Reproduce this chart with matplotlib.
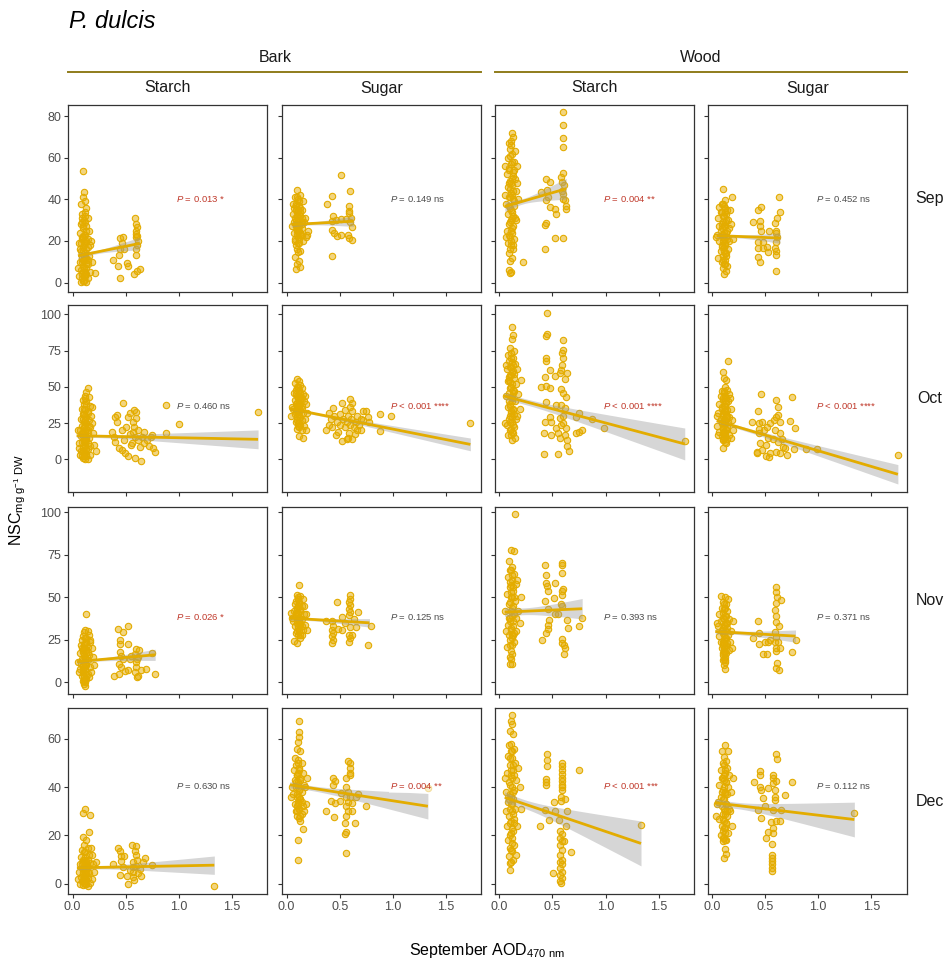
import numpy as np
import matplotlib
matplotlib.use("Agg")
import matplotlib.pyplot as plt

plt.rcParams['font.family'] = ['Liberation Sans', 'DejaVu Sans']
plt.rcParams['mathtext.fontset'] = 'custom'
plt.rcParams['mathtext.rm'] = 'Liberation Sans'
plt.rcParams['mathtext.it'] = 'Liberation Sans:italic'

# ---------------- data ----------------
months = ["Sep", "Oct", "Nov", "Dec"]
tissues = ["Bark", "Wood"]
nsc_types = ["Starch", "Sugar"]
x_ticks = [0.0, 0.5, 1.0, 1.5]
x_tick_labels = ["0.0", "0.5", "1.0", "1.5"]
y_ticks_sep = [0, 20, 40, 60, 80]
y_ticks_oct = [0, 25, 50, 75, 100]
y_ticks_nov = [0, 25, 50, 75, 100]
y_ticks_dec = [0, 20, 40, 60]

# --- September ---
sep_bark_starch = [(0.10,53.6),(0.11,43.5),(0.10,41),(0.08,38),(0.13,36),(0.12,34),(0.09,33),(0.14,31),(0.11,30),(0.08,28),(0.13,27),(0.10,26),(0.15,25),(0.07,24),(0.12,23),(0.09,22),(0.14,21),(0.11,20),(0.06,19),(0.16,18),(0.10,17),(0.13,16),(0.08,15),(0.12,14),(0.15,13),(0.09,12),(0.11,11),(0.07,10),(0.14,9),(0.10,8),(0.05,7),(0.13,7),(0.08,6),(0.12,5),(0.16,5),(0.09,4),(0.11,3),(0.06,3),(0.14,2),(0.10,1),(0.08,0.5),(0.13,0.5),(0.21,4.4),(0.18,10),(0.17,20),(0.12,39),(0.09,29),(0.11,18),(0.13,12),(0.07,16),
    (0.09,31),(0.12,29),(0.10,27),(0.13,25),(0.11,23),(0.09,21),(0.12,19),(0.14,17),(0.10,15),(0.12,12),(0.09,10),(0.13,9),(0.11,7),(0.10,5),(0.12,3),(0.09,2),(0.13,4),(0.11,13),(0.14,11),(0.08,19),(0.12,32),(0.10,22),(0.11,1),(0.13,20),(0.10,11),
    (0.38,11.1),(0.43,8.1),(0.45,2.4),(0.44,13.4),(0.45,16.1),(0.45,21.4),(0.47,21.7),(0.46,18.8),(0.48,16.1),(0.51,9.2),(0.52,8.1),(0.59,31.1),(0.60,28),(0.60,25),(0.60,22),(0.61,26.5),(0.60,23.5),(0.60,16),(0.60,13.4),(0.61,22.4),(0.58,4.0),(0.61,5.6),(0.63,6.7),(0.61,18),(0.62,20)]
sep_bark_sugar = [(0.10,44.6),(0.13,42),(0.08,41),(0.11,40),(0.15,39),(0.09,38),(0.12,37),(0.07,36),(0.14,35),(0.10,34),(0.06,33),(0.13,32),(0.08,31),(0.11,30),(0.16,29),(0.09,28),(0.12,27),(0.05,27),(0.14,26),(0.10,25),(0.07,24),(0.13,23),(0.11,22),(0.18,22),(0.08,21),(0.15,20),(0.12,19),(0.09,18),(0.10,16),(0.13,15),(0.11,14.6),(0.08,12.2),(0.12,10.6),(0.10,9),(0.13,7.3),(0.09,6.5),(0.19,23),(0.20,25),(0.17,31),(0.06,38),(0.12,33),(0.09,35),(0.14,28),(0.11,26),(0.07,29),
    (0.10,41),(0.12,39),(0.09,37),(0.11,35),(0.13,34),(0.10,32),(0.12,30),(0.14,29),(0.09,27),(0.11,25),(0.13,24),(0.10,23),(0.12,21),(0.08,20),(0.11,19),(0.14,31),(0.09,30),(0.13,36),(0.11,28),(0.10,26),(0.12,25),(0.14,23),
    (0.515,51.9),(0.60,44.2),(0.43,41.8),(0.38,37.8),(0.59,37),(0.59,34.6),(0.587,33.3),(0.437,32.2),(0.425,29.8),(0.469,30.1),(0.515,30.6),(0.562,30.6),(0.619,26.9),(0.43,25.2),(0.447,23.9),(0.478,22.3),(0.515,23.1),(0.581,22.7),(0.59,21.6),(0.619,20.6),(0.425,12.6),(0.60,29),(0.61,31)]
sep_wood_starch = [(0.12,72),(0.13,70),(0.09,67),(0.11,68),(0.10,64),(0.12,62),(0.08,60),(0.14,58),(0.11,57),(0.09,55),(0.13,53),(0.07,52),(0.15,50),(0.10,49),(0.12,47),(0.08,46),(0.16,44),(0.11,43),(0.09,41),(0.13,40),(0.06,38),(0.14,37),(0.10,36),(0.12,34),(0.08,33),(0.15,31),(0.11,30),(0.09,28),(0.13,27),(0.07,25),(0.12,24),(0.10,22),(0.14,21),(0.08,19),(0.11,18),(0.13,16),(0.09,14),(0.12,12),(0.10,10.3),(0.22,9.8),(0.09,6),(0.11,5),(0.10,4.8),(0.17,48),(0.18,40),(0.16,30),(0.05,56),(0.05,42),(0.06,22),(0.15,63),(0.17,56),
    (0.11,66),(0.10,61),(0.12,58),(0.09,54),(0.13,51),(0.11,48),(0.10,45),(0.12,42),(0.14,39),(0.09,37),(0.11,35),(0.13,32),(0.10,29),(0.12,26),(0.09,23),(0.11,20),(0.13,18),(0.10,16),(0.12,50),(0.14,54),(0.10,41),(0.12,31),(0.11,25),(0.09,48),(0.13,44),
    (0.599,81.8),(0.599,75.7),(0.599,69.6),(0.599,65.2),(0.599,52.7),(0.583,50.8),(0.593,48.3),(0.605,46.7),(0.599,42.7),(0.614,39.8),(0.624,36.6),(0.624,35.5),(0.443,50),(0.474,48.3),(0.452,44.6),(0.39,43.5),(0.458,41.2),(0.437,39.5),(0.474,36.3),(0.521,35.2),(0.53,33.1),(0.443,28.5),(0.43,27.9),(0.524,21.4),(0.599,21.4),(0.433,16.1),(0.59,44),(0.60,40)]
sep_wood_sugar = [(0.10,45.1),(0.19,41),(0.07,36.3),(0.12,39.5),(0.09,38),(0.11,37),(0.14,35),(0.08,34),(0.13,33),(0.10,32),(0.06,31),(0.15,30),(0.12,29),(0.09,28),(0.11,27),(0.16,26),(0.08,25),(0.13,24),(0.05,23),(0.10,22),(0.14,21),(0.07,20),(0.12,19),(0.09,18),(0.11,17),(0.15,16),(0.08,15),(0.13,14),(0.10,13),(0.06,12),(0.12,11),(0.09,10),(0.11,9),(0.14,8),(0.10,7),(0.13,5.5),(0.11,4.3),(0.17,35),(0.18,28),(0.07,27),(0.04,22),(0.16,20),(0.20,21),(0.12,34),(0.09,23),
    (0.10,38),(0.12,36),(0.09,34),(0.11,32),(0.13,30),(0.10,29),(0.12,27),(0.09,26),(0.11,24),(0.13,22),(0.10,20),(0.12,18),(0.09,17),(0.11,15),(0.13,13),(0.10,11),(0.12,9),(0.11,21),(0.14,25),(0.10,23),(0.12,14),
    (0.627,41.1),(0.636,33.9),(0.615,31.1),(0.59,28.5),(0.605,25),(0.605,23.9),(0.615,21.7),(0.605,19.3),(0.59,16.8),(0.605,15.2),(0.605,13.4),(0.605,5.6),(0.465,36.3),(0.434,35),(0.39,29.3),(0.449,29.8),(0.455,27.4),(0.534,25),(0.465,25),(0.434,19.3),(0.48,19.3),(0.434,16.8),(0.48,16.8),(0.527,14.9),(0.434,12.3),(0.455,10.1),(0.52,17)]

# --- October ---
oct_bark_starch = [(0.14,49),(0.13,46.6),(0.12,44),(0.15,43),(0.10,41),(0.13,40),(0.11,38),(0.16,37),(0.09,35),(0.12,34),(0.14,32),(0.10,31),(0.13,29),(0.08,28),(0.15,27),(0.11,26),(0.12,24),(0.09,23),(0.16,22),(0.13,21),(0.07,20),(0.10,19),(0.14,18),(0.12,17),(0.08,16),(0.15,15),(0.11,14),(0.13,13),(0.09,12),(0.06,11),(0.12,10),(0.16,9),(0.10,8),(0.14,7),(0.08,6),(0.12,5),(0.11,4),(0.07,3),(0.13,2),(0.10,1),(0.14,0.5),(0.12,0.2),(0.18,36),(0.17,30),(0.19,18),(0.20,10),(0.22,6),(0.05,20),(0.06,8),(0.16,3),(0.18,25),(0.09,2),
    (0.12,42),(0.13,38),(0.11,35),(0.14,33),(0.12,30),(0.10,28),(0.13,25),(0.11,22),(0.14,20),(0.12,19),(0.10,16),(0.13,15),(0.11,12),(0.14,11),(0.12,9),(0.10,6),(0.13,4),(0.11,2),(0.12,13),(0.15,23),(0.09,18),(0.12,27),(0.13,7),(0.11,31),
    (0.475,39),(0.37,19.1),(0.39,15.7),(0.40,12.2),(0.40,29.4),(0.42,30.6),(0.42,26),(0.46,20.2),(0.44,7.6),(0.46,6.4),(0.49,4.6),(0.52,2.3),(0.54,31.7),(0.52,29.4),(0.54,17.5),(0.55,9.9),(0.57,26),(0.58,34),(0.60,32.9),(0.60,28.3),(0.58,22.5),(0.59,15.7),(0.59,0.7),(0.64,-0.9),(0.63,8.7),(0.67,11),(0.70,13.3),(0.74,15.7),(0.75,16.8),(0.72,9),(0.76,7.6),(0.78,5.3),(0.57,19.1),(0.62,13),(0.65,15.7),(0.67,19.1),(0.48,13),(0.50,22),(0.62,20),(0.56,11),
    (0.88,37.4),(1.0,24.6),(0.88,18.1),(1.746,32.4)]
oct_bark_sugar = [(0.10,55.2),(0.12,54),(0.08,52.5),(0.13,51),(0.11,50),(0.14,49),(0.09,48),(0.12,47),(0.07,46),(0.15,45),(0.10,44),(0.13,43),(0.11,42),(0.08,41),(0.16,40),(0.12,39),(0.09,38),(0.14,37),(0.10,36),(0.06,35),(0.13,34),(0.11,33),(0.15,32),(0.08,31),(0.12,30),(0.10,29),(0.17,28),(0.14,27),(0.09,26),(0.11,25),(0.13,24),(0.16,23),(0.12,22),(0.10,21),(0.18,20.5),(0.14,20),(0.12,16),(0.15,14.5),(0.04,30),(0.05,36),(0.19,32),(0.18,38),(0.17,44),
    (0.10,50),(0.12,48),(0.09,45),(0.11,43),(0.13,41),(0.10,39),(0.12,37),(0.14,35),(0.09,33),(0.11,31),(0.13,29),(0.10,27),(0.12,25),(0.11,23),(0.13,46),(0.14,42),(0.12,33),(0.10,34),(0.11,37),
    (0.375,20.2),(0.44,35.2),(0.52,38.6),(0.60,41.4),(0.62,38.6),(0.52,12.8),(0.57,13.8),(0.64,17.5),(0.66,20.2),(0.72,33.3),(0.75,33.3),(0.77,29.4),(0.72,27.2),(0.78,26),(0.875,31.2),(0.875,19.7),(0.985,29.9),(1.73,25.3),
    (0.40,24),(0.42,28),(0.45,30),(0.43,22),(0.47,26),(0.48,19),(0.50,24),(0.50,31),(0.53,28),(0.55,22),(0.55,34),(0.57,26),(0.58,30),(0.59,18),(0.60,24),(0.61,28),(0.62,33),(0.60,36),(0.63,22),(0.65,26),(0.66,30),(0.68,24),(0.70,28),(0.70,20),(0.46,17),(0.40,32),(0.58,15),(0.62,14)]
oct_wood_starch = [(0.12,91.5),(0.13,86),(0.12,83.2),(0.10,77),(0.14,75),(0.11,73),(0.08,72),(0.13,70),(0.09,68),(0.15,66),(0.11,64),(0.07,62),(0.12,60),(0.10,58),(0.14,56),(0.08,54),(0.16,52),(0.11,50),(0.13,48),(0.09,46),(0.06,44),(0.12,42),(0.15,40),(0.10,38),(0.08,36),(0.13,34),(0.11,32),(0.17,30),(0.09,28),(0.12,26),(0.07,24),(0.14,22),(0.10,20),(0.13,18),(0.11,16.6),(0.15,15),(0.12,13.4),(0.08,17),(0.05,25),(0.18,45),(0.19,35),(0.20,55),(0.17,62),(0.16,28),(0.09,57),(0.14,47),(0.06,65),(0.10,30),
    (0.11,70),(0.12,67),(0.10,64),(0.13,61),(0.11,58),(0.09,55),(0.12,52),(0.10,49),(0.13,46),(0.11,43),(0.12,40),(0.10,37),(0.13,35),(0.11,33),(0.12,29),(0.10,26),(0.13,24),(0.11,21),(0.12,19),(0.14,59),(0.09,40),(0.14,31),(0.10,53),(0.13,65),
    (0.452,100.7),(0.452,86.2),(0.443,85),(0.599,82.3),(0.599,75.4),(0.593,73.1),(0.443,69.7),(0.443,68),(0.599,69.7),(0.593,65.1),(0.474,61.6),(0.64,59.8),(0.583,61.6),(0.568,59.3),(0.427,56.6),(0.521,57.5),(0.614,55.2),(0.39,50.1),(0.437,50.6),(0.474,49),(0.583,48.3),(0.599,45.5),(0.63,43.2),(0.443,39.8),(0.536,37.5),(0.583,37.5),(0.614,35.2),(0.474,29.4),(0.568,28.3),(0.427,26),(0.483,26),(0.599,24.9),(0.421,18.4),(0.489,16.6),(0.536,21.3),(0.583,23.6),(0.63,21.3),(0.568,14.5),(0.64,13.4),(0.64,9.2),(0.655,5.8),(0.421,3.8),(0.552,3.8),(0.718,18.4),(0.749,19.1),(0.78,20.2),(0.718,29.4),(0.749,31.7),(0.874,27.5),(0.984,21.3),(1.746,12.9),(0.60,30),(0.62,17),(0.55,18)]
oct_wood_sugar = [(0.15,68),(0.10,60),(0.11,56),(0.13,55),(0.12,50),(0.14,48),(0.09,47),(0.11,46),(0.16,45),(0.08,44),(0.13,42),(0.10,41),(0.15,40),(0.07,38),(0.12,37),(0.09,36),(0.14,34),(0.11,33),(0.06,32),(0.13,31),(0.10,30),(0.16,29),(0.08,28),(0.12,27),(0.15,26),(0.09,25),(0.11,24),(0.05,23),(0.14,22),(0.10,21),(0.13,20),(0.07,19),(0.12,18),(0.16,17),(0.09,16),(0.11,15),(0.14,14),(0.10,13),(0.12,12),(0.13,11),(0.10,8),(0.18,35),(0.19,27),(0.17,42),(0.20,20),(0.05,30),(0.06,17),(0.18,15),
    (0.11,47),(0.12,44),(0.10,42),(0.13,39),(0.11,37),(0.09,35),(0.12,33),(0.10,31),(0.13,29),(0.11,27),(0.12,25),(0.10,23),(0.13,21),(0.11,19),(0.12,16),(0.10,14),(0.09,26),(0.14,30),(0.12,40),(0.10,18),
    (0.458,45),(0.43,33.6),(0.60,40.9),(0.62,36.3),(0.75,42.7),(0.62,30.6),(0.73,26.7),(0.78,21.4),(0.38,26),(0.44,24.9),(0.44,21),(0.44,17.9),(0.47,25.5),(0.49,20.2),(0.52,22.5),(0.55,24.9),(0.58,27),(0.60,29),(0.64,26),(0.64,18.5),(0.42,5.3),(0.42,4.1),(0.47,6.4),(0.51,2.5),(0.54,1.4),(0.55,4.1),(0.60,5.3),(0.64,4.6),(0.71,2.9),(0.69,7.8),(0.77,7.1),(0.45,11),(0.51,9.8),(0.57,14.3),(0.62,12),(0.67,8.7),(0.887,7.1),(0.99,7.1),(1.75,2.9),(0.53,15),(0.59,20),(0.66,14)]

# --- November ---
nov_bark_starch = [(0.13,40),(0.12,31),(0.14,30),(0.11,29.5),(0.15,28),(0.10,27),(0.13,26),(0.09,25),(0.16,24),(0.12,23),(0.08,22),(0.14,21),(0.11,20),(0.13,19),(0.10,18),(0.07,17),(0.15,16),(0.12,15),(0.09,14),(0.14,13),(0.11,12),(0.08,11),(0.13,10),(0.16,9),(0.10,8),(0.12,7),(0.06,6),(0.14,5),(0.09,4),(0.11,3),(0.13,2),(0.10,1),(0.12,0),(0.11,-1),(0.12,-2),(0.18,20),(0.19,15),(0.20,10),(0.05,12),(0.17,6),(0.16,25),(0.07,8),(0.15,3),
    (0.12,26),(0.13,24),(0.11,22),(0.12,20),(0.10,19),(0.13,17),(0.11,16),(0.12,14),(0.10,13),(0.13,11),(0.11,9),(0.12,8),(0.10,6),(0.13,5),(0.11,4),(0.12,2),(0.10,10),(0.14,18),(0.09,20),(0.12,11),(0.11,1),
    (0.387,4),(0.428,31.5),(0.475,29.9),(0.525,33.1),(0.522,22.6),(0.444,25.2),(0.45,22.6),(0.444,17.6),(0.459,15.7),(0.475,13.7),(0.437,10.8),(0.459,8.8),(0.49,6.9),(0.437,4.9),(0.525,7.4),(0.60,19.6),(0.625,19.1),(0.584,16.6),(0.606,13.7),(0.594,11.8),(0.60,8.8),(0.615,4),(0.606,3),(0.647,7.4),(0.693,7.8),(0.75,17.1),(0.777,4.9),(0.537,14),(0.553,15.7),(0.62,15),(0.59,6)]
nov_bark_sugar = [(0.12,57.1),(0.10,51.5),(0.13,51),(0.11,50),(0.15,49),(0.09,48),(0.12,47),(0.08,46),(0.14,45),(0.10,44),(0.13,43),(0.07,42),(0.11,41),(0.16,40),(0.09,39),(0.12,38),(0.14,37),(0.06,36),(0.10,35),(0.13,34),(0.08,33),(0.11,32),(0.15,31),(0.12,30),(0.09,29),(0.14,28),(0.11,27.7),(0.13,26),(0.07,24.2),(0.10,22.9),(0.18,40),(0.17,34),(0.05,38),(0.19,31),(0.16,45),(0.04,41),
    (0.11,49),(0.12,46),(0.10,44),(0.13,42),(0.11,40),(0.12,38),(0.10,37),(0.13,35),(0.11,33),(0.12,31),(0.10,30),(0.13,28),(0.12,36),(0.09,41),(0.14,33),(0.11,45),
    (0.375,35.8),(0.47,47.2),(0.52,38.3),(0.43,36),(0.44,33),(0.43,31),(0.44,29),(0.43,27),(0.44,25),(0.43,23),(0.48,31.5),(0.52,31),(0.60,51.1),(0.60,49.2),(0.59,47.2),(0.60,45.3),(0.59,43.3),(0.60,41.3),(0.59,39.4),(0.60,32.5),(0.59,27.6),(0.60,26.1),(0.59,23.6),(0.65,32.5),(0.67,41.3),(0.62,28),(0.77,22.2),(0.79,33),(0.55,35),(0.63,37)]
nov_wood_starch = [(0.15,98.8),(0.11,77.7),(0.14,77.5),(0.09,71.2),(0.12,68),(0.10,66),(0.14,64),(0.08,62),(0.12,60),(0.16,58),(0.10,56),(0.13,54),(0.07,52),(0.11,50),(0.15,48),(0.09,46),(0.12,44),(0.05,42),(0.14,40),(0.10,38),(0.13,36),(0.08,34),(0.11,32),(0.16,30),(0.09,28),(0.12,26),(0.14,24),(0.10,22),(0.07,20.6),(0.11,18.7),(0.12,16.5),(0.10,15),(0.11,13.7),(0.10,10.9),(0.12,11),(0.18,42),(0.19,35),(0.20,50),(0.17,60),(0.06,30),(0.16,38),(0.13,28),
    (0.11,66),(0.12,63),(0.10,59),(0.13,56),(0.11,53),(0.12,50),(0.10,47),(0.13,45),(0.11,42),(0.12,39),(0.10,36),(0.13,33),(0.11,31),(0.12,28),(0.10,25),(0.12,22),(0.14,50),(0.09,38),(0.14,29),(0.11,57),
    (0.434,69.3),(0.44,62.9),(0.44,58.6),(0.447,56.6),(0.456,54),(0.528,58.6),(0.519,49.6),(0.434,47.6),(0.456,43.3),(0.472,36.4),(0.456,33.9),(0.456,31.5),(0.44,29.2),(0.397,25.2),(0.588,70.3),(0.594,68.9),(0.594,64.4),(0.60,55.1),(0.594,53.6),(0.588,51.6),(0.578,46.3),(0.594,44.7),(0.556,40.4),(0.637,36.4),(0.647,31.9),(0.594,25.6),(0.588,23.3),(0.612,22.1),(0.622,20.1),(0.612,16.8),(0.747,33.4),(0.778,37.9),(0.52,40.4)]
nov_wood_sugar = [(0.08,50.6),(0.12,50),(0.15,49),(0.10,47),(0.13,46),(0.09,44),(0.11,43),(0.14,42),(0.07,40),(0.12,39),(0.10,38),(0.16,37),(0.08,36),(0.13,35),(0.11,34),(0.06,33),(0.14,32),(0.09,31),(0.12,30),(0.10,29),(0.15,28),(0.07,27),(0.13,26),(0.11,25),(0.08,24),(0.14,23),(0.10,22),(0.12,21),(0.09,20),(0.16,19),(0.11,18),(0.13,17),(0.10,16),(0.12,15),(0.11,14),(0.10,13),(0.12,12),(0.11,10),(0.12,7.9),(0.18,30),(0.17,24),(0.05,35),(0.19,20),(0.20,36),
    (0.11,46),(0.12,44),(0.10,41),(0.13,39),(0.11,37),(0.12,34),(0.10,32),(0.13,30),(0.11,28),(0.12,26),(0.10,24),(0.13,22),(0.11,20),(0.12,18),(0.10,17),(0.12,13),(0.09,30),(0.14,35),(0.11,23),
    (0.433,35.8),(0.386,26),(0.443,29.1),(0.443,22.6),(0.48,16.7),(0.518,16.7),(0.496,24),(0.527,23.6),(0.60,56.1),(0.606,53.2),(0.612,50.2),(0.606,46.9),(0.653,48.6),(0.59,42.8),(0.60,39.1),(0.606,35.6),(0.631,33.2),(0.59,29.7),(0.606,26.8),(0.59,23.6),(0.606,20),(0.606,18.5),(0.637,20),(0.615,11.2),(0.606,8.3),(0.628,7.3),(0.756,18.1),(0.787,25.2),(0.55,25),(0.62,24)]

# --- December ---
dec_bark_starch = [(0.12,31),(0.10,29.5),(0.16,28.6),(0.15,21.4),(0.10,19.2),(0.13,18),(0.11,16),(0.14,15),(0.09,14),(0.12,13),(0.15,12),(0.08,11),(0.11,10),(0.13,9.5),(0.10,9),(0.16,8.5),(0.07,8),(0.12,7.5),(0.14,7),(0.09,6.5),(0.11,6),(0.13,5.5),(0.06,5),(0.15,4.5),(0.10,4),(0.12,3.5),(0.08,3),(0.14,2.5),(0.11,2),(0.05,2),(0.13,1.5),(0.09,1),(0.16,0.5),(0.12,0),(0.10,-0.5),(0.14,-1),(0.18,12),(0.19,8),(0.20,5),(0.17,15),(0.07,0),(0.22,9),(0.18,2),
    (0.11,13),(0.12,11),(0.10,10),(0.13,8),(0.11,7),(0.12,6),(0.10,5),(0.13,4),(0.11,3),(0.12,2),(0.10,1),(0.13,0),(0.12,9),(0.14,10),(0.09,8),(0.12,4.5),(0.11,0.5),(0.14,5),
    (0.381,8.3),(0.428,14.8),(0.45,13.5),(0.459,11.4),(0.481,11.4),(0.444,3.8),(0.459,9.6),(0.515,3.1),(0.522,-0.3),(0.562,16),(0.60,15.6),(0.584,13.5),(0.60,12),(0.569,9.2),(0.569,7),(0.569,5),(0.569,2.7),(0.615,4.5),(0.647,3.1),(0.662,9.2),(0.678,10.6),(0.75,7.7),(0.537,5.5),(0.60,7.5),(0.61,10),(0.58,1.5),(0.47,7),(0.63,6),
    (1.334,-1)]
dec_bark_sugar = [(0.12,67.5),(0.12,63),(0.12,60.9),(0.11,58.9),(0.10,56),(0.13,55),(0.08,52),(0.11,51.4),(0.14,50),(0.09,49),(0.12,48),(0.07,47),(0.15,46),(0.10,45),(0.13,44),(0.08,43),(0.11,42),(0.16,41),(0.09,40),(0.12,39),(0.14,38),(0.06,37),(0.10,36),(0.13,35),(0.11,34),(0.08,33),(0.15,32),(0.12,31),(0.09,30),(0.14,29),(0.10,28),(0.12,27.3),(0.13,26),(0.15,22.5),(0.11,18),(0.11,9.8),(0.17,40),(0.18,33),(0.05,40),(0.04,36),(0.19,44),(0.16,30),(0.10,32),
    (0.11,50),(0.12,47),(0.10,45),(0.13,43),(0.11,41),(0.12,39),(0.10,37),(0.13,35),(0.11,33),(0.12,31),(0.10,30),(0.13,28),(0.12,36),(0.09,42),(0.14,34),(0.11,46),
    (0.375,30.3),(0.437,43.8),(0.437,41.1),(0.453,42.5),(0.447,27.5),(0.422,34.2),(0.453,33.5),(0.50,34.2),(0.515,37.6),(0.562,43.8),(0.578,50.7),(0.594,50),(0.594,48),(0.594,46),(0.594,45),(0.56,40),(0.58,38),(0.56,36),(0.58,34),(0.56,32),(0.58,30),(0.56,28),(0.547,25.2),(0.556,21.6),(0.547,20.5),(0.556,12.6),(0.64,25.2),(0.618,33.5),(0.656,35.8),(0.743,32.1),(0.672,37),(0.60,36),(0.62,30),
    (1.33,39.7)]
dec_wood_starch = [(0.12,69.7),(0.11,67.2),(0.12,66),(0.10,63.4),(0.13,62),(0.09,57.5),(0.14,56),(0.11,55),(0.08,53),(0.12,52),(0.15,50),(0.10,49),(0.13,47),(0.07,46),(0.11,45),(0.16,43),(0.09,42),(0.12,40),(0.14,39),(0.06,38),(0.10,37),(0.13,35),(0.08,34),(0.11,33),(0.15,31),(0.12,30),(0.09,28),(0.14,27),(0.10,25),(0.07,24),(0.13,22),(0.11,21),(0.12,19),(0.08,18),(0.14,16),(0.10,15),(0.12,13.5),(0.09,11.4),(0.13,10),(0.11,9.2),(0.10,8.6),(0.10,5.5),(0.18,48),(0.19,40),(0.20,31),(0.17,24),(0.05,44),(0.06,30),(0.16,12),
    (0.11,58),(0.12,55),(0.10,52),(0.13,49),(0.11,47),(0.12,44),(0.10,41),(0.13,38),(0.11,36),(0.12,33),(0.10,31),(0.13,29),(0.11,26),(0.12,23),(0.10,20),(0.12,17),(0.11,14),(0.14,45),(0.09,35),(0.14,25),
    (0.45,53.8),(0.45,51.4),(0.45,48.9),(0.44,43.4),(0.44,41.1),(0.44,42.3),(0.384,23.8),(0.434,30.7),(0.472,26.6),(0.519,34),(0.528,30),(0.509,4.5),
    (0.594,50),(0.594,48.6),(0.594,47),(0.594,45.5),(0.594,44),(0.594,42.5),(0.594,41),(0.594,39.9),(0.594,38.8),(0.578,35.8),(0.578,34.2),(0.619,35),(0.641,30.1),(0.631,24.1),(0.562,26.2),
    (0.57,21.9),(0.59,20.5),(0.57,19),(0.59,17.6),(0.57,16),(0.59,14),(0.57,12),(0.59,10),(0.57,9),(0.59,8),(0.57,6.5),(0.59,5),(0.57,3.5),(0.59,2.5),(0.57,1.2),(0.58,0.2),
    (0.612,17.9),(0.675,13.1),(0.747,46.9),(1.334,24.5)]
dec_wood_sugar = [(0.12,57.3),(0.09,55),(0.15,54.8),(0.11,52.5),(0.13,51),(0.10,50),(0.14,48),(0.08,47),(0.12,46),(0.16,45),(0.09,44),(0.11,43),(0.13,42),(0.07,41),(0.15,40),(0.10,39),(0.12,38),(0.14,37),(0.08,36),(0.11,35),(0.06,34),(0.13,33),(0.09,32),(0.16,31),(0.12,30),(0.10,29),(0.14,28),(0.07,27),(0.11,26),(0.13,25),(0.09,24),(0.12,23),(0.10,22),(0.15,21),(0.08,20),(0.11,19),(0.13,18),(0.10,17.6),(0.12,14.2),(0.13,12.5),(0.11,10.8),(0.18,38),(0.17,30),(0.19,24),(0.05,33),(0.04,28),(0.20,44),
    (0.11,49),(0.12,47),(0.10,44),(0.13,42),(0.11,40),(0.12,37),(0.10,35),(0.13,33),(0.11,31),(0.12,29),(0.10,27),(0.13,25),(0.11,23),(0.12,21),(0.10,19),(0.12,18),(0.09,38),(0.14,30),(0.11,45),
    (0.393,42.1),(0.449,46.8),(0.449,45.2),(0.455,40.2),(0.465,38.8),(0.48,35.4),(0.433,30.6),(0.458,27.2),(0.496,32),(0.527,39.5),(0.60,53.7),(0.612,51.8),(0.575,45.2),(0.575,43.8),(0.575,41.7),(0.606,42.5),(0.59,38.8),(0.59,36),(0.59,34.6),(0.575,30.6),(0.606,25.8),(0.637,25.8),(0.559,25.5),(0.527,21.5),(0.512,19.1),(0.575,23),(0.575,21),(0.569,16.6),(0.569,12.1),(0.569,10.7),(0.569,9.3),(0.569,8),(0.569,6.5),(0.569,5.3),(0.684,36.6),(0.756,42.1),(0.653,30.6),
    (1.34,29.3)]

# fitted regression lines (x start, y start, x end, y end, CI half-width min, CI half-width at end)
sep_fits = [(0.05,12.9,0.63,18.8,0.8,3.0),(0.047,27.9,0.63,29.5,0.7,2.5),(0.052,36.6,0.63,45.1,1.3,5.0),(0.043,22.6,0.64,21.4,0.7,2.5)]
oct_fits = [(0.037,16.3,1.746,13.8,1.0,6.5),(0.03,34.9,1.73,10.3,0.8,4.4),(0.043,43.7,1.746,10.6,2.0,11.0),(0.043,26.6,1.75,-10.3,1.2,6.7)]
nov_fits = [(0.04,12.2,0.777,16.2,0.8,3.3),(0.03,37.8,0.78,35.0,0.8,2.5),(0.05,41.3,0.78,43.3,2.0,6.0),(0.03,29.9,0.786,27.2,1.0,3.6)]
dec_fits = [(0.04,6.6,1.334,7.7,0.6,3.8),(0.03,41.0,1.33,32.1,1.0,5.3),(0.05,35.8,1.334,16.7,1.8,9.3),(0.03,33.5,1.34,26.6,1.3,7.2)]
fit_center_x = 0.22

# P-value labels
sep_p = ["= 0.013 *", "= 0.149 ns", "= 0.004 **", "= 0.452 ns"]
oct_p = ["= 0.460 ns", "< 0.001 ****", "< 0.001 ****", "< 0.001 ****"]
nov_p = ["= 0.026 *", "= 0.125 ns", "= 0.393 ns", "= 0.371 ns"]
dec_p = ["= 0.630 ns", "= 0.004 **", "< 0.001 ***", "= 0.112 ns"]
sep_sig = [True, False, True, False]
oct_sig = [False, True, True, True]
nov_sig = [True, False, False, False]
dec_sig = [False, True, True, False]
label_x = 0.975
label_y = [40, 37, 38.4, 40.3]

# ---------------- layout / style ----------------
W, H = 950, 960
col_left = [68.3, 282.3, 495.0, 707.7]
col_w = 199.0
row_top = [105.0, 305.0, 507.3, 707.7]
row_h = 186.7
xlim = (-0.041, 1.833)
ylims = [(-4.35, 85.3), (-22.3, 106.4), (-6.85, 102.95), (-4.4, 72.9)]

gold = '#E3AC00'
fill = (0.90, 0.68, 0.0, 0.5)
red = '#C0392B'
grey_txt = '#4D4D4D'
strip_line = '#8F7C1B'

rows_data = [
    [sep_bark_starch, sep_bark_sugar, sep_wood_starch, sep_wood_sugar],
    [oct_bark_starch, oct_bark_sugar, oct_wood_starch, oct_wood_sugar],
    [nov_bark_starch, nov_bark_sugar, nov_wood_starch, nov_wood_sugar],
    [dec_bark_starch, dec_bark_sugar, dec_wood_starch, dec_wood_sugar],
]
rows_fits = [sep_fits, oct_fits, nov_fits, dec_fits]
rows_p = [sep_p, oct_p, nov_p, dec_p]
rows_sig = [sep_sig, oct_sig, nov_sig, dec_sig]
rows_yticks = [y_ticks_sep, y_ticks_oct, y_ticks_nov, y_ticks_dec]

fig = plt.figure(figsize=(W / 100, H / 100), dpi=100)

for r in range(4):
    for c in range(4):
        ax = fig.add_axes([col_left[c] / W, 1 - (row_top[r] + row_h) / H, col_w / W, row_h / H])
        pts = np.array(rows_data[r][c])
        ax.scatter(pts[:, 0], pts[:, 1], s=21, facecolors=[fill], edgecolors=gold,
                   linewidths=0.8, zorder=2)
        x0, y0, x1, y1, hmin, hend = rows_fits[r][c]
        xs = np.linspace(x0, x1, 100)
        ys = y0 + (y1 - y0) * (xs - x0) / (x1 - x0)
        k = (hend ** 2 - hmin ** 2) / (x1 - fit_center_x) ** 2
        hw = np.sqrt(hmin ** 2 + k * (xs - fit_center_x) ** 2)
        ax.fill_between(xs, ys - hw, ys + hw, color='#999999', alpha=0.4, lw=0, zorder=3)
        ax.plot(xs, ys, color=gold, lw=2.0, zorder=4, solid_capstyle='butt')
        sig = rows_sig[r][c]
        ax.text(label_x, label_y[r], r'$\it{P}$ ' + rows_p[r][c], fontsize=6.8,
                color=red if sig else grey_txt, ha='left', va='center', zorder=5,
                bbox=dict(boxstyle='square,pad=0.15', fc='white', ec='none', alpha=0.6))
        ax.set_xlim(*xlim)
        ax.set_ylim(*ylims[r])
        ax.set_xticks(x_ticks)
        ax.set_yticks(rows_yticks[r])
        if r == 3:
            ax.set_xticklabels(x_tick_labels)
        else:
            ax.set_xticklabels([])
        if c == 0:
            ax.set_yticklabels([str(v) for v in rows_yticks[r]])
        else:
            ax.set_yticklabels([])
        ax.tick_params(axis='both', direction='out', length=3, width=0.8, color='#333333',
                       labelcolor=grey_txt, labelsize=9, pad=2)
        for sp in ax.spines.values():
            sp.set_color('#333333')
            sp.set_linewidth(0.9)

# strips on top
for t, tissue in enumerate(tissues):
    xa = col_left[2 * t]
    xb = col_left[2 * t + 1] + col_w
    fig.text((xa + xb) / 2 / W, 1 - 57 / H, tissue, ha='center', va='center', fontsize=11.5, color='#1A1A1A')
    fig.add_artist(plt.Line2D([xa / W, xb / W], [1 - 72 / H, 1 - 72 / H], color=strip_line, lw=1.4))
    for k2, nt in enumerate(nsc_types):
        c = 2 * t + k2
        fig.text((col_left[c] + col_w / 2) / W, 1 - 88 / H, nt, ha='center', va='center',
                 fontsize=11.5, color='#1A1A1A')

# strips on right
for r, m in enumerate(months):
    fig.text(930 / W, 1 - (row_top[r] + row_h / 2) / H, m, ha='center', va='center',
             fontsize=11.5, color='#1A1A1A')

# title and axis titles
fig.text(69 / W, 1 - 22 / H, 'P. dulcis', ha='left', va='center', fontsize=17, style='italic', color='black')
fig.text(487.5 / W, 1 - 950 / H, r'September AOD$_{\mathrm{470\ nm}}$', ha='center', va='center', fontsize=11.5)
fig.text(18 / W, 1 - 500 / H, r'NSC$_{\mathrm{mg\ g^{-1}\ DW}}$', ha='center', va='center', rotation=90, fontsize=11.5)

fig.savefig('out.png', dpi=100, facecolor='white')
